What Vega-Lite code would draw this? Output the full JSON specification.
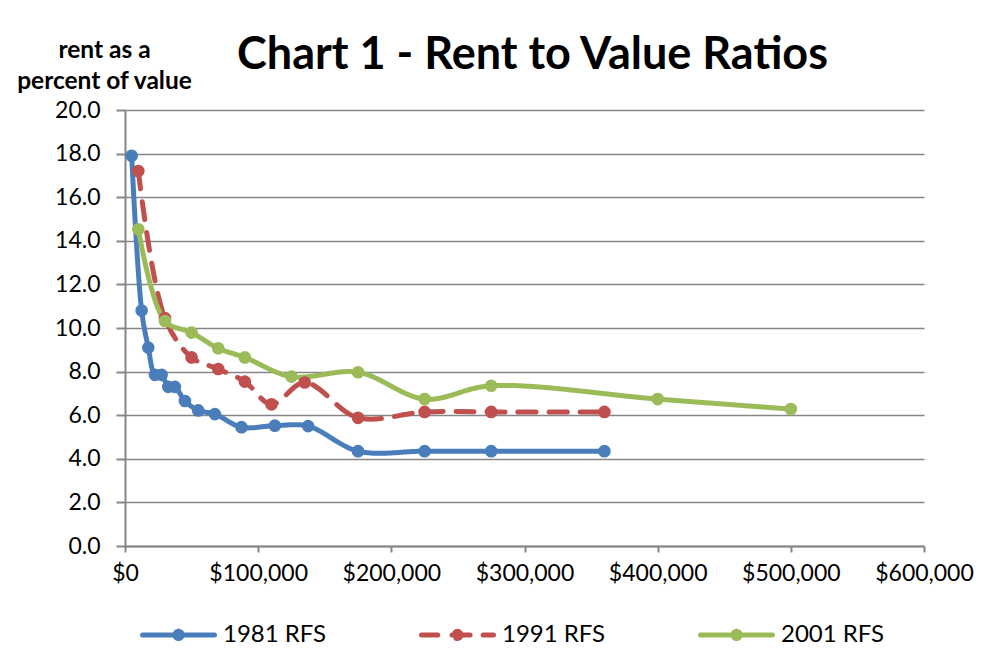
{
  "$schema": "https://vega.github.io/schema/vega-lite/v6.json",
  "width": 799,
  "height": 436,
  "autosize": {"type": "none"},
  "padding": {"left": 125, "top": 110, "right": 58, "bottom": 112},
  "background": "white",
  "title": {
    "text": "Chart 1 - Rent to Value Ratios",
    "font": "Lato",
    "fontSize": 45,
    "fontWeight": "bold",
    "color": "black",
    "anchor": "middle",
    "baseline": "alphabetic",
    "offset": -77,
    "dx": 8
  },
  "config": {
    "view": {"stroke": null},
    "font": "Lato"
  },
  "data": {
    "values": [
      {"series": "1981 RFS", "value": 5000, "ratio": 17.9},
      {"series": "1981 RFS", "value": 12500, "ratio": 10.8},
      {"series": "1981 RFS", "value": 17500, "ratio": 9.1},
      {"series": "1981 RFS", "value": 22500, "ratio": 7.85},
      {"series": "1981 RFS", "value": 27500, "ratio": 7.85},
      {"series": "1981 RFS", "value": 32500, "ratio": 7.3},
      {"series": "1981 RFS", "value": 37500, "ratio": 7.3},
      {"series": "1981 RFS", "value": 45000, "ratio": 6.65},
      {"series": "1981 RFS", "value": 55000, "ratio": 6.22},
      {"series": "1981 RFS", "value": 67500, "ratio": 6.05},
      {"series": "1981 RFS", "value": 87500, "ratio": 5.45},
      {"series": "1981 RFS", "value": 112500, "ratio": 5.52},
      {"series": "1981 RFS", "value": 137500, "ratio": 5.5},
      {"series": "1981 RFS", "value": 175000, "ratio": 4.35},
      {"series": "1981 RFS", "value": 225000, "ratio": 4.35},
      {"series": "1981 RFS", "value": 275000, "ratio": 4.35},
      {"series": "1981 RFS", "value": 360000, "ratio": 4.35},
      {"series": "1991 RFS", "value": 10000, "ratio": 17.2},
      {"series": "1991 RFS", "value": 30000, "ratio": 10.45},
      {"series": "1991 RFS", "value": 50000, "ratio": 8.65},
      {"series": "1991 RFS", "value": 70000, "ratio": 8.12},
      {"series": "1991 RFS", "value": 90000, "ratio": 7.54},
      {"series": "1991 RFS", "value": 110000, "ratio": 6.5},
      {"series": "1991 RFS", "value": 135000, "ratio": 7.5},
      {"series": "1991 RFS", "value": 175000, "ratio": 5.88},
      {"series": "1991 RFS", "value": 225000, "ratio": 6.15},
      {"series": "1991 RFS", "value": 275000, "ratio": 6.15},
      {"series": "1991 RFS", "value": 360000, "ratio": 6.15},
      {"series": "2001 RFS", "value": 10000, "ratio": 14.53},
      {"series": "2001 RFS", "value": 30000, "ratio": 10.32},
      {"series": "2001 RFS", "value": 50000, "ratio": 9.79},
      {"series": "2001 RFS", "value": 70000, "ratio": 9.07},
      {"series": "2001 RFS", "value": 90000, "ratio": 8.65},
      {"series": "2001 RFS", "value": 125000, "ratio": 7.77},
      {"series": "2001 RFS", "value": 175000, "ratio": 7.97},
      {"series": "2001 RFS", "value": 225000, "ratio": 6.74},
      {"series": "2001 RFS", "value": 275000, "ratio": 7.35},
      {"series": "2001 RFS", "value": 400000, "ratio": 6.74},
      {"series": "2001 RFS", "value": 500000, "ratio": 6.28}
    ]
  },
  "encoding": {
    "x": {
      "field": "value",
      "type": "quantitative",
      "scale": {"domain": [0, 600000], "nice": false, "zero": true},
      "axis": {
        "title": null,
        "values": [0, 100000, 200000, 300000, 400000, 500000, 600000],
        "format": "$,.0f",
        "grid": false,
        "domainColor": "#868686",
        "domainWidth": 2,
        "tickColor": "#868686",
        "tickWidth": 2,
        "tickSize": 6,
        "labelFont": "Lato",
        "labelFontSize": 23,
        "labelColor": "black",
        "labelPadding": 10,
        "labelFlush": false
      }
    },
    "y": {
      "field": "ratio",
      "type": "quantitative",
      "scale": {"domain": [0, 20], "nice": false},
      "axis": {
        "values": [0, 2, 4, 6, 8, 10, 12, 14, 16, 18, 20],
        "format": ".1f",
        "grid": true,
        "gridColor": "#868686",
        "gridWidth": 1.6,
        "domainColor": "#868686",
        "domainWidth": 2,
        "tickColor": "#868686",
        "tickWidth": 2,
        "tickSize": 9,
        "labelFont": "Lato",
        "labelFontSize": 23,
        "labelColor": "black",
        "labelPadding": 16,
        "title": ["rent as a", "percent of value"],
        "titleFont": "Lato",
        "titleFontSize": 24.5,
        "titleFontWeight": "bold",
        "titleColor": "black",
        "titleAngle": 0,
        "titleAlign": "center",
        "titleBaseline": "alphabetic",
        "titleX": -21,
        "titleY": -53,
        "titleLineHeight": 31
      }
    },
    "color": {
      "field": "series",
      "type": "nominal",
      "scale": {"domain": ["1981 RFS", "1991 RFS", "2001 RFS"], "range": ["#4A7EBB", "#C0504D", "#9BBB59"]},
      "legend": {
        "title": null,
        "orient": "none",
        "legendX": 15,
        "legendY": 486,
        "direction": "horizontal",
        "gridAlign": "all",
        "columnPadding": 84,
        "symbolSize": 5184,
        "symbolType": "M-1,0L1,0",
        "symbolStrokeWidth": 5,
        "symbolDash": [1, 0],
        "labelFont": "Lato",
        "labelFontSize": 24,
        "labelColor": "black",
        "labelOffset": 6,
        "symbolOpacity": 1,
        "encode": {
          "symbols": {
            "update": {
              "shape": {"signal": "datum.value === '1991 RFS' ? 'M-1,0L-0.55,0M-0.15,0L1,0M-0.1,0A0.1,0.1,0,1,1,0.1,0A0.1,0.1,0,1,1,-0.1,0Z' : 'M-1,0L1,0M-0.1,0A0.1,0.1,0,1,1,0.1,0A0.1,0.1,0,1,1,-0.1,0Z'"},
              "stroke": {"scale": "color", "field": "value"},
              "fill": {"scale": "color", "field": "value"},
              "strokeWidth": {"value": 5},
              "strokeDash": {"value": [1, 0]},
              "strokeCap": {"value": "round"},
              "opacity": {"value": 1}
            }
          }
        }
      }
    }
  },
  "layer": [
    {
      "mark": {"type": "line", "strokeWidth": 5, "interpolate": "catmull-rom", "strokeCap": "round"},
      "encoding": {
        "strokeDash": {
          "field": "series",
          "type": "nominal",
          "scale": {"domain": ["1981 RFS", "1991 RFS", "2001 RFS"], "range": [[1, 0], [18, 13], [1, 0]]},
          "legend": null
        }
      }
    },
    {
      "mark": {"type": "point", "filled": true, "size": 160, "opacity": 1}
    }
  ]
}
